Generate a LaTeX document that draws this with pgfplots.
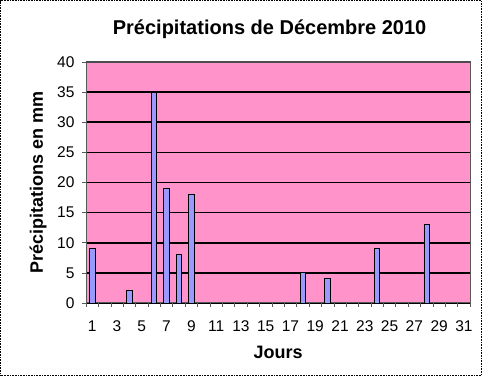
\documentclass[border=0pt]{standalone}
\usepackage{pgfplots}
\pgfplotsset{compat=1.18}
\usepackage{fontspec}
\setmainfont{Liberation Sans}
\definecolor{bgpink}{HTML}{FF93CA}
\definecolor{barblue}{HTML}{9999FF}
\begin{document}
\begin{tikzpicture}
\begin{axis}[
  scale only axis,
  width=384pt, height=241pt,
  xmin=0.5, xmax=31.5,
  ymin=0, ymax=40,
  ytick={0,5,...,40},
  xtick={1,3,...,31},
  minor xtick={0.5,1.5,...,31.5},
  major x tick style={draw=none},
  minor tick length=4pt,
  major tick length=4pt,
  tick align=outside,
  tick pos=left,
  tick style={gray!70!black, line width=0.6pt},
  ymajorgrids,
  major grid style={black, line width=1.6pt},
  axis line style={gray!70!black, line width=1pt},
  axis background/.style={fill=bgpink},
  ticklabel style={font=\fontsize{15.5}{17}\selectfont},
  xticklabel style={yshift=-10pt},
  yticklabel style={xshift=-4pt},
  /pgf/number format/assume math mode=true,
  xlabel={\textbf{Jours}},
  ylabel={\textbf{Précipitations en mm}},
  xlabel style={font=\fontsize{18}{20}\selectfont, at={(axis description cs:0.5,-0.203)}, anchor=center},
  ylabel style={font=\fontsize{18}{20}\selectfont, at={(axis description cs:-0.125,0.5)}, anchor=center},
  title={\textbf{Précipitations de Décembre 2010}},
  title style={font=\fontsize{20}{22}\selectfont, at={(axis description cs:0.478,1.11)}, anchor=center},
  ybar, bar width=5.5pt,
  clip=false,
]
\addplot[fill=barblue, draw=black, line width=0.9pt] coordinates {
 (1,9) (4,2) (6,35) (7,19) (8,8) (9,18) (18,5) (20,4) (24,9) (28,13)
};
\draw[gray!60!black, line width=1.5pt] (rel axis cs:0,1) -- (rel axis cs:1,1);
\draw[black, densely dotted, line width=0.6pt]
  (axis description cs:-0.2225,-0.3) rectangle (axis description cs:1.0295,1.2545);
\path (axis description cs:-0.224,-0.303) rectangle (axis description cs:1.031,1.257);
\end{axis}
\end{tikzpicture}
\end{document}
